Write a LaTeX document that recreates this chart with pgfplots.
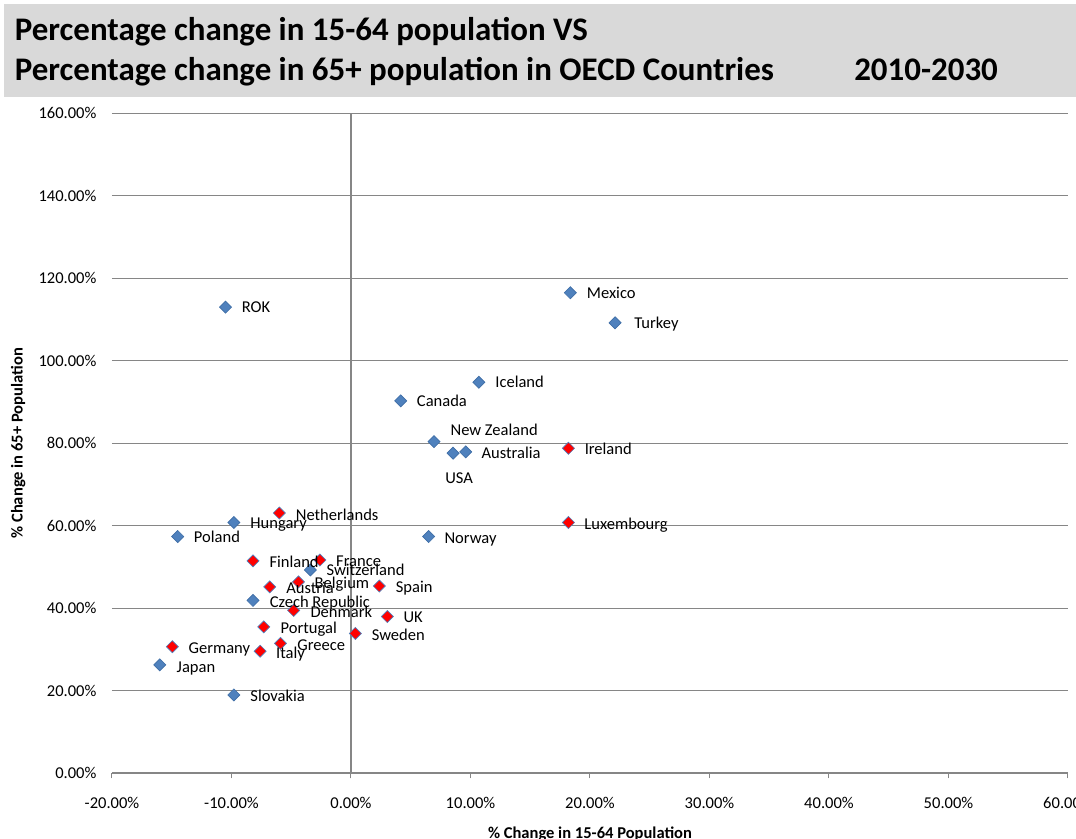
\documentclass[border=0pt]{standalone}
\usepackage{fontspec}
\setmainfont{Carlito}
\usepackage{pgfplots}
\usepackage{pgfplotstable}
\pgfplotsset{compat=1.18}

\definecolor{bandgray}{HTML}{D9D9D9}
\definecolor{gridgray}{HTML}{868686}
\definecolor{xlblue}{HTML}{4F81BD}
\definecolor{xlbluedark}{HTML}{3F6EA6}

\newcommand\tk{\fontsize{12.4}{14}\selectfont}
\newcommand\ttl{\fontsize{24.7}{30}\selectfont\bfseries}

% Percentage change 2010-2030: x = 15-64 population, y = 65+ population
% dx, dy: label offsets (pt) from the marker
\pgfplotstableread[col sep=comma]{
x,y,dx,dy,label
-10.5,113.0,12,-4.2,ROK
18.35,116.5,12.3,-4.2,Mexico
22.1,109.2,14.3,-4.5,Turkey
10.7,94.8,12.2,-4.3,Iceland
4.16,90.3,12,-4.3,Canada
6.95,80.4,12.2,4.8,New Zealand
8.54,77.6,-6,-23,USA
9.6,77.9,11.7,-4.7,Australia
6.5,57.4,11.7,-5.5,Norway
-9.8,60.8,12.2,-4.7,Hungary
-14.5,57.4,12,-4.7,Poland
-3.4,49.3,12,-4,Switzerland
-8.2,41.9,12.4,-5,Czech Republic
-16.0,26.3,12.5,-5.7,Japan
-9.8,19.0,12.2,-5.3,Slovakia
}\bluetab

\pgfplotstableread[col sep=comma]{
x,y,dx,dy,label
18.2,78.8,12,-4.5,Ireland
18.2,60.8,11.8,-5.3,Luxembourg
-6.0,63.1,12.2,-5.5,Netherlands
-8.2,51.5,12.2,-5,Finland
-2.6,51.7,12,-4.5,France
-4.4,46.4,12,-5,Belgium
-6.8,45.2,12.2,-5.2,Austria
2.37,45.4,12.2,-5,Spain
-4.8,39.5,12.5,-5.3,Denmark
3.04,38.0,12,-4.8,UK
-7.3,35.5,12.5,-4.8,Portugal
0.36,33.9,12.2,-5.3,Sweden
-5.9,31.5,12.5,-5.3,Greece
-14.95,30.7,12,-5.2,Germany
-7.6,29.6,11.8,-5.3,Italy
}\redtab

\pgfplotsset{
  country labels/.style={
    only marks, mark=none,
    nodes near coords,
    point meta=explicit symbolic,
    visualization depends on={\thisrow{dx}\as\dx},
    visualization depends on={\thisrow{dy}\as\dy},
    every node near coord/.append style={
      anchor=base west, inner sep=0pt, font=\tk, text=black,
      xshift=\dx pt, yshift=\dy pt},
  },
}

\begin{document}
\begin{tikzpicture}
% title band
\fill[bandgray] (3pt,556.3pt) rectangle (807pt,626.25pt);
\node[anchor=base west, inner sep=0pt, font=\ttl] at (11pt,598.7pt)
  {Percentage change in 15-64 population VS};
\node[anchor=base west, inner sep=0pt, font=\ttl] at (11pt,568.7pt)
  {Percentage change in 65+ population in OECD Countries};
\node[anchor=base west, inner sep=0pt, font=\ttl] at (640.5pt,568.7pt)
  {2010-2030};

\begin{axis}[
  at={(84pt,49.275pt)}, anchor=south west,
  scale only axis, width=717pt, height=495pt,
  xmin=-20, xmax=60, ymin=0, ymax=160,
  axis x line*=bottom, axis y line*=left,
  x axis line style={gridgray, line width=1.5pt, -},
  y axis line style={draw=none},
  xtick={-20,-10,...,60}, ytick={0,20,...,160},
  xtick align=outside, major tick length=3.75pt,
  xtick style={gridgray, line width=0.75pt},
  ytick style={draw=none},
  ymajorgrids, major grid style={gridgray, line width=0.75pt},
  extra x ticks={0}, extra x tick labels={},
  extra x tick style={grid=major, major grid style={gridgray, line width=1.5pt}},
  /pgf/number format/assume math mode=true,
  xticklabel={\pgfmathprintnumber[fixed,fixed zerofill,precision=2]{\tick}\%},
  yticklabel={\pgfmathprintnumber[fixed,fixed zerofill,precision=2]{\tick}\%},
  xticklabel style={font=\tk, anchor=north, inner sep=0pt, yshift=-14pt},
  yticklabel style={font=\tk, anchor=east, inner sep=0pt, xshift=-11.5pt},
  xlabel={\% Change in 15-64 Population},
  ylabel={\% Change in 65+ Population},
  xlabel style={font=\tk\bfseries, at={(axis description cs:0.5,-0.0919)}, anchor=center},
  ylabel style={font=\tk\bfseries, at={(axis description cs:-0.098,0.5)}, anchor=center, rotate=0},
]
\addplot[only marks, mark=square*, mark size=3.2pt,
  mark options={rotate=45, fill=xlblue, draw=xlbluedark, line width=0.5pt}]
  table[x=x, y=y] {\bluetab};
\addplot[only marks, mark=square*, mark size=3.2pt,
  mark options={rotate=45, fill=red, draw=xlblue, line width=0.5pt}]
  table[x=x, y=y] {\redtab};
\addplot[country labels] table[x=x, y=y, meta=label] {\bluetab};
\addplot[country labels] table[x=x, y=y, meta=label] {\redtab};
\end{axis}
\pgfresetboundingbox
\useasboundingbox (0,0) rectangle (807pt,629.25pt);
\end{tikzpicture}
\end{document}
